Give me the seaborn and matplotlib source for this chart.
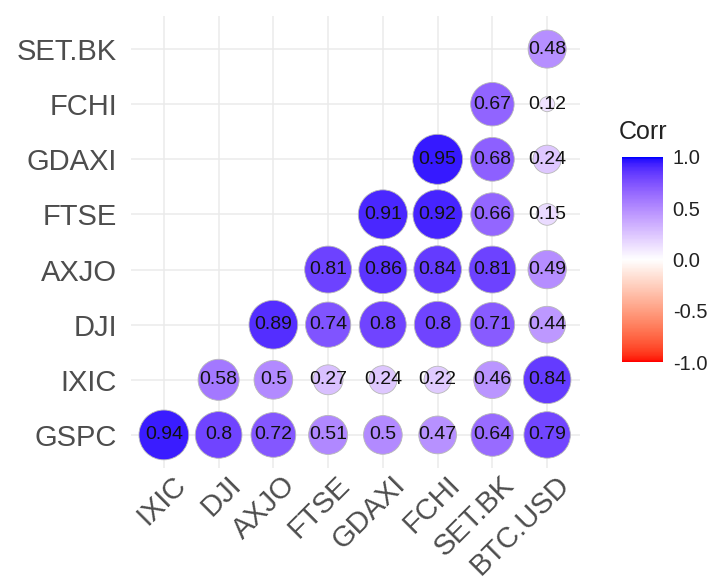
import numpy as np
import pandas as pd
import matplotlib
matplotlib.use("Agg")
import matplotlib.pyplot as plt
import matplotlib.transforms as mtransforms
import seaborn as sns
from matplotlib.colors import ListedColormap, Normalize
from matplotlib.cm import ScalarMappable

# Correlation matrix, lower triangle: each row variable against the columns to its right
rows = ["GSPC", "IXIC", "DJI", "AXJO", "FTSE", "GDAXI", "FCHI", "SET.BK"]
cols = ["IXIC", "DJI", "AXJO", "FTSE", "GDAXI", "FCHI", "SET.BK", "BTC.USD"]

corr_gspc = [0.94, 0.80, 0.72, 0.51, 0.50, 0.47, 0.64, 0.79]
corr_ixic = [0.58, 0.50, 0.27, 0.24, 0.22, 0.46, 0.84]
corr_dji = [0.89, 0.74, 0.80, 0.80, 0.71, 0.44]
corr_axjo = [0.81, 0.86, 0.84, 0.81, 0.49]
corr_ftse = [0.91, 0.92, 0.66, 0.15]
corr_gdaxi = [0.95, 0.68, 0.24]
corr_fchi = [0.67, 0.12]
corr_setbk = [0.48]

row_values = [corr_gspc, corr_ixic, corr_dji, corr_axjo,
              corr_ftse, corr_gdaxi, corr_fchi, corr_setbk]

records = []
for r, vals in zip(rows, row_values):
    for c, v in zip(cols[len(cols) - len(vals):], vals):
        records.append({"row": r, "col": c, "corr": v, "abs_corr": abs(v)})
df = pd.DataFrame(records)


# Diverging red-white-blue palette interpolated in CIELAB
def _srgb_to_lab(rgb):
    rgb = np.asarray(rgb, float)
    lin = np.where(rgb <= 0.04045, rgb / 12.92, ((rgb + 0.055) / 1.055) ** 2.4)
    m = np.array([[0.4124, 0.3576, 0.1805],
                  [0.2126, 0.7152, 0.0722],
                  [0.0193, 0.1192, 0.9505]])
    xyz = m @ lin
    xyz = xyz / np.array([0.95047, 1.0, 1.08883])
    f = np.where(xyz > 216 / 24389, np.cbrt(xyz), (24389 / 27 * xyz + 16) / 116)
    return np.array([116 * f[1] - 16, 500 * (f[0] - f[1]), 200 * (f[1] - f[2])])


def _lab_to_srgb(lab):
    L, a, b = lab
    fy = (L + 16) / 116
    fx = fy + a / 500
    fz = fy - b / 200
    f = np.array([fx, fy, fz])
    xyz = np.where(f ** 3 > 216 / 24389, f ** 3, (116 * f - 16) / (24389 / 27))
    xyz = xyz * np.array([0.95047, 1.0, 1.08883])
    minv = np.array([[3.2406, -1.5372, -0.4986],
                     [-0.9689, 1.8758, 0.0415],
                     [0.0557, -0.2040, 1.0570]])
    lin = np.clip(minv @ xyz, 0, 1)
    rgb = np.where(lin <= 0.0031308, 12.92 * lin, 1.055 * lin ** (1 / 2.4) - 0.055)
    return np.clip(rgb, 0, 1)


low, mid, high = _srgb_to_lab([1, 0, 0]), _srgb_to_lab([1, 1, 1]), _srgb_to_lab([0, 0, 1])
ramp = []
for t in np.linspace(0, 1, 256):
    if t < 0.5:
        lab = low + (mid - low) * (t / 0.5)
    else:
        lab = mid + (high - mid) * ((t - 0.5) / 0.5)
    ramp.append(_lab_to_srgb(lab))
cmap = ListedColormap(ramp)
norm = Normalize(-1, 1)

# Circle area scale: diameter grows with sqrt of rescaled |corr|
dmin_px, dmax_px = 15.0, 50.0
amin, amax = df["abs_corr"].min(), df["abs_corr"].max()
size_map = {}
for v in sorted(df["abs_corr"].unique()):
    d_px = dmin_px + (dmax_px - dmin_px) * np.sqrt((v - amin) / (amax - amin))
    size_map[v] = (d_px * 0.72) ** 2

sns.set_theme(style="whitegrid")
plt.rcParams["font.family"] = ["Liberation Sans", "DejaVu Sans"]

fig = plt.figure(figsize=(7.10, 5.83), dpi=100)
ax = fig.add_axes([131 / 710, 1 - 468 / 583, 449 / 710, 452 / 583])
ax.set_facecolor("white")

sns.scatterplot(data=df, x="col", y="row", hue="corr", palette=cmap, hue_norm=norm,
                size="abs_corr", sizes=size_map, edgecolor="#b8b8b8", linewidth=0.6,
                legend=False, ax=ax, zorder=3)

for _, rec in df.iterrows():
    ax.text(cols.index(rec["col"]), rows.index(rec["row"]), f"{rec['corr']:g}",
            ha="center", va="center", fontsize=14, color="#111111", zorder=4)

ax.set_xticks(range(len(cols)))
ax.set_xticklabels(cols)
ax.set_yticks(range(len(rows)))
ax.set_yticklabels(rows)
ax.set_xlim(-0.6, len(cols) - 0.4)
ax.set_ylim(-0.6, len(rows) - 0.4)
ax.set_xlabel("")
ax.set_ylabel("")
ax.grid(True, color="#ebebeb", linewidth=1.1)
ax.set_axisbelow(True)
for s in ax.spines.values():
    s.set_visible(False)
ax.tick_params(axis="both", length=0, labelsize=21, colors="#4d4d4d")
ax.tick_params(axis="y", pad=10)
ax.tick_params(axis="x", pad=2)
shift = mtransforms.ScaledTranslation(8 / 100, 0, fig.dpi_scale_trans)
for lbl in ax.get_xticklabels():
    lbl.set_rotation(45)
    lbl.set_ha("right")
    lbl.set_va("top")
    lbl.set_rotation_mode("anchor")
    lbl.set_transform(lbl.get_transform() + shift)

# Colour bar legend
cax = fig.add_axes([622 / 710, 1 - 362 / 583, 41 / 710, 205 / 583])
cb = fig.colorbar(ScalarMappable(norm=norm, cmap=cmap), cax=cax)
cb.outline.set_visible(False)
cb.set_ticks([-1.0, -0.5, 0.0, 0.5, 1.0])
cb.set_ticklabels(["-1.0", "-0.5", "0.0", "0.5", "1.0"])
cax.tick_params(axis="y", direction="in", color="white", length=5, width=1,
                left=True, right=True, labelsize=14.5, labelcolor="#222222", pad=7)
fig.text(619 / 710, 1 - 132 / 583, "Corr", fontsize=18, color="#222222",
         ha="left", va="center")

fig.savefig("out.png", dpi=100)
